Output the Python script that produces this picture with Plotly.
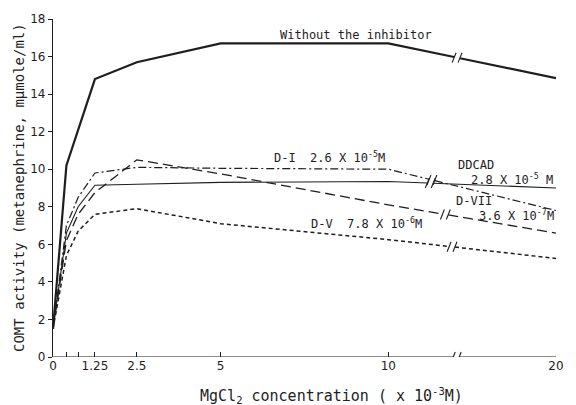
import numpy as np
import plotly.graph_objects as go

# ---- data (MgCl2 concentration, x10^-3 M) ----
conc_without = [0, 0.4, 1.25, 2.5, 5, 10, 20]
without_inhibitor = [1.5, 10.2, 14.8, 15.7, 16.7, 16.7, 14.85]

conc = [0, 0.4, 0.75, 1.25, 2.5, 5, 10, 20]
ddcad = [1.5, 6.6, 8.0, 9.15, 9.2, 9.3, 9.35, 9.0]
d_i = [1.5, 7.0, 8.5, 9.8, 10.1, 10.05, 10.0, 7.8]
d_vii = [1.5, 6.2, 7.6, 8.75, 10.5, 9.75, 8.1, 6.6]
d_v = [1.5, 5.4, 6.7, 7.6, 7.9, 7.1, 6.25, 5.25]

tick_conc = [0, 0.4, 0.75, 1.25, 2.5, 5, 10, 20]
tick_text = ["0", "", "", "1.25", "2.5", "5", "10", "20"]
y_ticks = [0, 2, 4, 6, 8, 10, 12, 14, 16, 18]

# ---- broken axis: 10..20 compressed by half ----
def to_u(x):
    x = np.asarray(x, dtype=float)
    return np.where(x <= 10, x, 10 + (x - 10) * 0.5)

INK = "#1e1e1e"
FONT = "DejaVu Sans Mono"
TICKFONT = "DejaVu Sans"
PX_U = 1 / 34.0     # approx data units per pixel (x)
PX_Y = 1 / 18.9     # approx data units per pixel (y)

series = [
    # x, y, style, break location (concentration)
    (conc_without, without_inhibitor, dict(width=2.2, dash="solid"), 14.1),
    (conc, ddcad, dict(width=1.1, dash="solid"), 12.5),
    (conc, d_i, dict(width=1.2, dash="8px,3px,2px,3px"), 12.6),
    (conc, d_vii, dict(width=1.3, dash="10px,5px"), 13.4),
    (conc, d_v, dict(width=1.5, dash="4px,3px"), 13.8),
]

fig = go.Figure()
gap = 3 * PX_U
slash_x = []
slash_y = []
for xs, ys, st, brk in series:
    u = to_u(xs)
    ub = float(to_u([brk])[0])
    yb = float(np.interp(ub, u, ys))
    left_u = np.append(u[u < ub], ub - gap)
    left_y = np.interp(left_u, u, ys)
    right_u = np.insert(u[u > ub], 0, ub + gap)
    right_y = np.interp(right_u, u, ys)
    for uu, yy in ((left_u, left_y), (right_u, right_y)):
        fig.add_trace(go.Scatter(x=uu, y=yy, mode="lines",
                                 line=dict(color=INK, width=st["width"], dash=st["dash"]),
                                 hoverinfo="skip", showlegend=False))
    for off in (-gap, gap):
        slash_x += [ub + off - 2 * PX_U, ub + off + 2 * PX_U, None]
        slash_y += [yb - 5 * PX_Y, yb + 5 * PX_Y, None]

fig.add_trace(go.Scatter(x=slash_x, y=slash_y, mode="lines",
                         line=dict(color=INK, width=1.1),
                         hoverinfo="skip", showlegend=False))

# x-axis line with break
axis_brk = float(to_u([14.05])[0])
shapes = [
    dict(type="line", xref="x", yref="y", x0=0, x1=axis_brk - gap, y0=0, y1=0,
         line=dict(color=INK, width=1.2)),
    dict(type="line", xref="x", yref="y", x0=axis_brk + gap, x1=float(to_u([20])[0]), y0=0, y1=0,
         line=dict(color=INK, width=1.2)),
]
for off in (-gap, gap):
    shapes.append(dict(type="line", xref="x", yref="y",
                       x0=axis_brk + off - 2 * PX_U, x1=axis_brk + off + 2 * PX_U,
                       y0=-5 * PX_Y, y1=5 * PX_Y, line=dict(color=INK, width=1.1)))

ann_font = dict(family=FONT, size=12, color=INK)
annotations = [
    dict(x=9.03, y=17.15, text="Without the inhibitor", xanchor="center"),
    dict(x=6.53, y=10.66, text="D-I  2.6 X 10<sup>-5</sup>M", xanchor="left"),
    dict(x=12.03, y=10.25, text="DDCAD", xanchor="left"),
    dict(x=14.97, y=9.46, text="2.8 X 10<sup>-5</sup> M", xanchor="right"),
    dict(x=11.97, y=8.31, text="D-VII", xanchor="left"),
    dict(x=12.65, y=7.58, text="3.6 X 10<sup>-7</sup>M", xanchor="left"),
    dict(x=7.62, y=7.16, text="D-V  7.8 X 10<sup>-6</sup>M", xanchor="left"),
]
for a in annotations:
    a.update(xref="x", yref="y", showarrow=False, yanchor="middle", font=ann_font)

annotations.append(dict(xref="paper", yref="paper", x=0, y=0.5, xshift=-34,
                        text="COMT activity (metanephrine, mμmole/ml)", textangle=-90,
                        showarrow=False, xanchor="center", yanchor="middle",
                        font=dict(family=FONT, size=14, color=INK)))
annotations.append(dict(xref="paper", yref="paper", x=0.553, y=0, yshift=-38,
                        text="MgCl<sub>2</sub> concentration ( x 10<sup>-3</sup>M)",
                        showarrow=False, xanchor="center", yanchor="middle",
                        font=dict(family=FONT, size=15, color=INK)))

fig.update_layout(
    width=576, height=405,
    margin=dict(l=53, r=13, t=17, b=48),
    paper_bgcolor="white", plot_bgcolor="white",
    shapes=shapes, annotations=annotations,
    xaxis=dict(range=[0, float(to_u([20])[0])], tickvals=to_u(tick_conc), ticktext=tick_text,
               ticks="inside", ticklen=5, tickcolor=INK, showline=False, showgrid=False,
               zeroline=False, tickfont=dict(family=TICKFONT, size=12, color=INK)),
    yaxis=dict(range=[0, 18], tickvals=y_ticks, ticks="outside", ticklen=4, tickcolor=INK,
               showline=True, linecolor=INK, linewidth=1.2, showgrid=False, zeroline=False,
               tickfont=dict(family=TICKFONT, size=12, color=INK)),
)

# remove the default 8px page margin so the 576x405 figure fills the window exactly
fig.write_html("out.html", config={"displayModeBar": False},
               post_script="document.body.style.margin='0';")
